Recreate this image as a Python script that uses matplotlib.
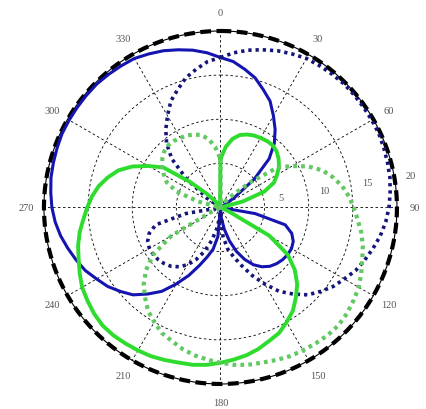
import numpy as np
import matplotlib.pyplot as plt

# pattern magnitudes sampled every 5 degrees (0 = north, clockwise)
theta_deg = list(range(0, 360, 5))

blue_solid = [17.0, 16.6, 15.9, 15.2, 14.2, 13.3, 12.0, 10.8, 9.5, 7.8, 5.0, 1.8,
              0, 0, 0, 0, 0, 0, 0, 0,
              4.0, 7.6, 8.6, 9.1, 9.3, 9.3, 9.2, 9.0, 8.7, 8.2, 7.5, 6.5, 5.3, 3.9, 2.5, 1.2,
              0, 3.3, 4.8, 5.8, 7.0, 8.5, 10.0, 11.6, 12.8, 14.0, 14.8, 15.6,
              16.2, 16.9, 17.4, 17.9, 18.4, 18.8, 19.1, 19.3, 19.5, 19.6, 19.7, 19.8,
              19.8, 19.8, 19.8, 19.8, 19.7, 19.6, 19.5, 19.2, 18.9, 18.5, 18.1, 17.6]

blue_dotted = [17.0, 17.6, 18.1, 18.5, 18.9, 19.2, 19.5, 19.6, 19.7, 19.8, 19.8, 19.8,
               19.8, 19.8, 19.7, 19.6, 19.5, 19.3, 19.1, 18.8, 18.4, 17.9, 17.4, 16.9,
               16.2, 15.6, 14.8, 14.0, 12.8, 11.6, 10.0, 8.5, 7.0, 5.8, 4.8, 3.3,
               0, 1.2, 2.5, 3.9, 5.3, 6.5, 7.5, 8.2, 8.7, 9.0, 9.2, 9.3, 9.3, 9.1, 8.6, 7.6, 4.0,
               0, 0, 0, 0, 0, 0, 0, 0,
               1.8, 5.0, 7.8, 9.5, 10.8, 12.0, 13.3, 14.2, 15.2, 15.9, 16.6]

green_solid = [5.5, 6.9, 7.9, 8.5, 8.8, 9.0, 9.1, 9.2, 9.2, 9.0, 8.6, 8.1, 7.4, 6.7, 5.3, 2.6,
               0, 0, 0, 0, 0, 0, 0,
               1.0, 6.4, 9.3, 11.0, 12.3, 13.3, 14.3, 15.0, 15.7, 16.1, 16.6, 17.0, 17.3,
               17.6, 17.9, 18.1, 18.2, 18.4, 18.6, 18.7, 18.8, 18.9, 18.9, 18.7, 18.4,
               18.1, 17.6, 17.1, 16.7, 16.2, 15.6, 15.1, 14.6, 14.0, 13.2, 12.3, 11.0,
               9.4, 7.9, 4.5, 2.2, 1.0, 0.3, 0, 0, 0, 0, 0, 0.5]

green_dotted = [5.5, 0.5, 0, 0, 0, 0, 0, 0.3, 1.0, 2.2, 4.5, 7.9,
                9.4, 11.0, 12.3, 13.2, 14.0, 14.6, 15.1, 15.6, 16.2, 16.7, 17.1, 17.6,
                18.1, 18.4, 18.7, 18.9, 18.9, 18.8, 18.7, 18.6, 18.4, 18.2, 18.1, 17.9,
                17.6, 17.3, 17.0, 16.6, 16.1, 15.7, 15.0, 14.3, 13.3, 12.3, 11.0, 9.3, 6.4, 1.0,
                0, 0, 0, 0, 0, 0, 0,
                2.6, 5.3, 6.7, 7.4, 8.1, 8.6, 9.0, 9.2, 9.2, 9.1, 9.0, 8.8, 8.5, 7.9, 6.9]

ring_values = [5, 10, 15, 20]
r_max = 20

def closed(vals):
    t = np.deg2rad(theta_deg + [360])
    return t, list(vals) + [vals[0]]

fig = plt.figure(figsize=(4.26, 4.10), dpi=100)
ax = fig.add_axes([0.102, 0.061, 0.831, 0.861], projection='polar')
ax.set_theta_zero_location('N')
ax.set_theta_direction(-1)
ax.set_ylim(0, r_max)

# reference circle at full scale
t_ref = np.deg2rad(np.arange(0, 361, 2))
ax.plot(t_ref, [r_max] * len(t_ref), color='black', lw=3.0,
        dashes=(2.6, 1.3), zorder=3, clip_on=False)

t, r = closed(blue_solid)
ax.plot(t, r, color='#1414b0', lw=2.2, zorder=4)
t, r = closed(blue_dotted)
ax.plot(t, r, color='#14147a', lw=2.6, linestyle=(0, (0.9, 1.1)), zorder=4)
t, r = closed(green_solid)
ax.plot(t, r, color='#2ddc2d', lw=2.8, zorder=5)
t, r = closed(green_dotted)
ax.plot(t, r, color='#62c862', lw=3.0, linestyle=(0, (0.9, 1.0)), zorder=5)

# grid
ax.set_rticks(ring_values[:-1])
ax.set_yticklabels([])
ax.set_thetagrids(range(0, 360, 30), [str(a) for a in range(0, 360, 30)],
                  fontsize=7.5, color='#555555', family='Liberation Serif')
ax.tick_params(axis='x', pad=2.5)
ax.grid(True, color='black', lw=0.6, linestyle=(0, (3, 3)))
ax.spines['polar'].set_linewidth(0.8)

for v in ring_values:
    ax.text(np.deg2rad(80.5), v + 1.9, str(v), fontsize=7.5, color='#555555',
            family='Liberation Serif', ha='center', va='center', clip_on=False)

fig.savefig('out.png', dpi=100)
